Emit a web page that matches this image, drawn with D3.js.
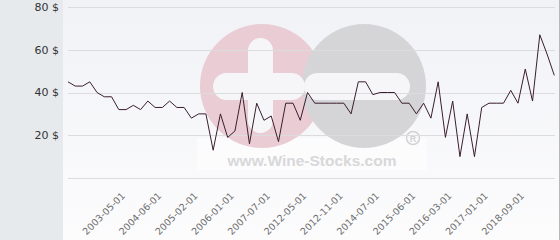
<!DOCTYPE html>
<html>
<head>
<meta charset="utf-8">
<script src="https://cdn.jsdelivr.net/npm/d3@7"></script>
<style>
  body { margin: 0; background: #fff; }
  svg { display: block; font-family: "DejaVu Sans", sans-serif; }
</style>
</head>
<body>
<svg id="mainsvg" width="560" height="240"></svg>
<script>
// prices, one per sale
const prices = [45, 43, 43, 45, 40, 38, 38, 32, 32, 34, 32, 36, 33, 33, 36, 33, 33, 28, 30, 30,
  13, 30, 19, 22, 40, 16, 35, 27, 29, 17, 35, 35, 27, 40, 35, 35, 35, 35, 35, 30,
  45, 45, 39, 40, 40, 40, 35, 35, 30, 35, 28, 45, 19, 36, 10, 30, 10, 33, 35, 35,
  35, 41, 35, 51, 36, 67, 58, 48];
const tickIndex = [7, 12, 17, 22, 27, 32, 37, 42, 47, 52, 57, 62];
const tickLabels = ['2003-05-01', '2004-06-01', '2005-02-01', '2006-01-01', '2007-07-01', '2012-05-01',
  '2012-11-01', '2014-07-01', '2015-06-01', '2016-03-01', '2017-01-01', '2018-09-01'];
const yTicks = [0, 20, 40, 60, 80];

const svg = d3.select('#mainsvg');
const width = +svg.attr('width');
const height = +svg.attr('height');

const plotLeft = 63, plotRight = 559;
const xScale = d3.scalePoint()
  .domain(prices.map((d, i) => i))
  .range([68, 554.3]);
const yScale = d3.scaleLinear().domain([0, 80]).range([178, 7]);

// backgrounds
const defs = svg.append('defs');
const grad = defs.append('linearGradient').attr('id', 'bg').attr('x1', 0).attr('y1', 0).attr('x2', 0).attr('y2', 1);
grad.append('stop').attr('offset', '0%').attr('stop-color', '#f1f2f6');
grad.append('stop').attr('offset', '100%').attr('stop-color', '#fcfcfd');

svg.append('rect').attr('width', plotLeft).attr('height', height).attr('fill', '#e6eaed');
svg.append('rect').attr('x', plotLeft).attr('width', plotRight - plotLeft).attr('height', height).attr('fill', 'url(#bg)');
svg.append('line').attr('x1', plotRight + 0.5).attr('x2', plotRight + 0.5).attr('y1', 0).attr('y2', height)
  .attr('stroke', '#b8b8b8');

// watermark
const wm = svg.append('g');
wm.append('rect').attr('x', 197).attr('y', 138).attr('width', 230).attr('height', 32)
  .attr('fill', '#fff').attr('opacity', 0.5);
wm.append('circle').attr('cx', 262).attr('cy', 86).attr('r', 62).attr('fill', '#e9ccd4');
wm.append('circle').attr('cx', 364).attr('cy', 86).attr('r', 62).attr('fill', '#d5d5d7');
wm.append('rect').attr('x', 248).attr('y', 38).attr('width', 25).attr('height', 95).attr('rx', 12.5)
  .attr('fill', '#f6f6f9');
wm.append('rect').attr('x', 213).attr('y', 73).attr('width', 92).attr('height', 27).attr('rx', 13.5)
  .attr('fill', '#f6f6f9');
wm.append('rect').attr('x', 304).attr('y', 73).attr('width', 106).attr('height', 27).attr('rx', 13.5)
  .attr('fill', '#f6f6f9');
wm.append('text').attr('x', 312).attr('y', 166).attr('text-anchor', 'middle')
  .attr('font-family', '"Liberation Sans", Arial, sans-serif').attr('font-weight', 'bold')
  .attr('font-size', 15.5).attr('fill', '#d8d8da').text('www.Wine-Stocks.com');
wm.append('circle').attr('cx', 413).attr('cy', 138).attr('r', 6.5).attr('fill', 'none')
  .attr('stroke', '#d3d3d5').attr('stroke-width', 1.5);
wm.append('text').attr('x', 413).attr('y', 141.5).attr('text-anchor', 'middle')
  .attr('font-family', '"Liberation Sans", Arial, sans-serif').attr('font-weight', 'bold')
  .attr('font-size', 9).attr('fill', '#d3d3d5').text('R');

// grid
svg.append('g').selectAll('line').data(yTicks).join('line')
  .attr('x1', 68).attr('x2', 555)
  .attr('y1', d => Math.round(yScale(d)) + 0.5).attr('y2', d => Math.round(yScale(d)) + 0.5)
  .attr('stroke', '#dcdcdf');

// y labels
svg.append('g').selectAll('text').data(yTicks.filter(d => d > 0)).join('text')
  .attr('x', 59).attr('y', d => yScale(d)).attr('dy', '0.35em')
  .attr('text-anchor', 'end').attr('font-size', 11).attr('fill', '#333')
  .text(d => d + ' $');

// x axis
const xAxis = d3.axisBottom(xScale)
  .tickValues(tickIndex)
  .tickFormat(i => tickLabels[tickIndex.indexOf(i)])
  .tickSize(0);
const xg = svg.append('g').attr('transform', 'translate(0, 178)').call(xAxis);
xg.select('.domain').remove();
xg.selectAll('.tick text')
  .attr('font-family', '"DejaVu Sans", sans-serif')
  .attr('font-size', 9.5).attr('fill', '#6e6e6e')
  .attr('text-anchor', 'end').attr('x', 0).attr('y', 0).attr('dy', '0.35em')
  .attr('transform', 'translate(4, 16) rotate(-45)');

// price line
const line = d3.line().x((d, i) => xScale(i)).y(d => yScale(d));
svg.append('path').datum(prices)
  .attr('d', line)
  .attr('fill', 'none')
  .attr('stroke', '#3a1e2c')
  .attr('stroke-width', 1);
</script>
</body>
</html>
